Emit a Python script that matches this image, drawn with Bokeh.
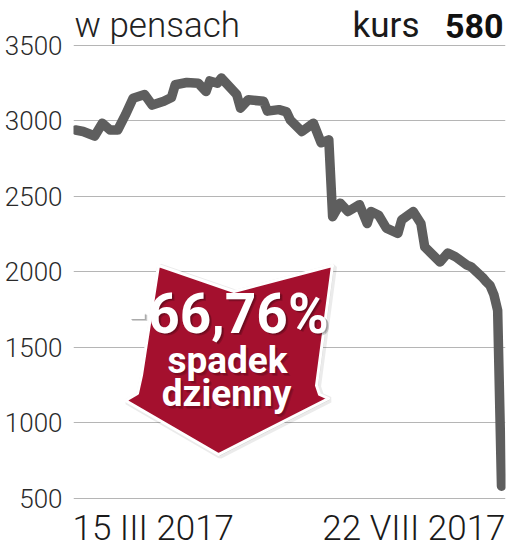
from bokeh.plotting import figure
from bokeh.models import FixedTicker, Label, Range1d
from bokeh.embed import file_html
from bokeh.resources import INLINE

# ---- data ----
session = [0, 2, 5, 7, 9, 11, 13, 15, 18, 20, 23, 25, 26, 29, 32, 34, 35, 37, 38, 40,
           42, 43, 45, 49, 50, 53, 55, 56, 59, 62, 64, 66, 67, 69, 71, 74, 76, 77, 79, 81,
           84, 85, 88, 90, 91, 95, 97, 99, 102, 103, 106, 107, 108, 109, 110, 111]
price = [2940, 2930, 2900, 2985, 2940, 2940, 3040, 3150, 3175, 3105, 3130, 3155, 3240, 3255,
         3250, 3195, 3265, 3250, 3285, 3230, 3175, 3085, 3140, 3130, 3065, 3075, 3060, 3005,
         2930, 2985, 2855, 2875, 2365, 2455, 2400, 2445, 2320, 2400, 2375, 2290, 2255, 2345,
         2400, 2320, 2165, 2065, 2125, 2100, 2045, 2035, 1965, 1935, 1910, 1850, 1745, 580]
y_ticks = [500, 1000, 1500, 2000, 2500, 3000, 3500]
date_labels = ["15 III 2017", "22 VIII 2017"]
unit_label = "w pensach"
kurs_label = "kurs"
kurs_value = "580"
change_label = "-66,76%"
change_text = ["spadek", "dzienny"]

# ---- layout ----
W, H = 510, 549
BL, BR = 73, 5
pxu = (501 - 75) / 111.0
X0 = -2 / pxu
X1 = X0 + (W - BL - BR) / pxu
pyu = (497.7 - 45) / 3000.0
Y1 = 3500 + 45 / pyu
Y0 = Y1 - H / pyu


def dx(px):
    return X0 + (px - BL) / pxu


def dy(py):
    return Y1 - py / pyu


LIGHT = "Roboto Light, Roboto"

p = figure(width=W, height=H, output_backend="svg", toolbar_location=None,
           x_axis_location=None, x_range=Range1d(X0, X1), y_range=Range1d(Y0, Y1),
           min_border_left=BL, min_border_top=0, min_border_bottom=0, min_border_right=BR)
p.outline_line_color = None
p.background_fill_color = "white"
p.border_fill_color = "white"
p.xgrid.visible = False
p.ygrid.grid_line_color = "#b5b5b5"
p.ygrid.grid_line_width = 1.2

ax = p.yaxis[0]
ax.ticker = FixedTicker(ticks=y_ticks)
ax.axis_line_color = None
ax.major_tick_line_color = None
ax.minor_tick_line_color = None
ax.major_tick_in = 0
ax.major_tick_out = 0
ax.major_label_standoff = 11
ax.major_label_text_font = LIGHT
ax.major_label_text_font_size = "26px"
ax.major_label_text_color = "#2a2a2a"

# price line
p.line(session, price, line_color="#5e5e5e", line_width=9.5,
       line_join="round", line_cap="round")

# arrow decoration
arrow_px = [(158, 265), (233.5, 291), (332, 265), (316, 385), (319, 394), (328, 398),
            (218, 454), (125, 400), (137, 393), (141, 375)]
ax_ = [dx(a) for a, b in arrow_px]
ay_ = [dy(b) for a, b in arrow_px]
p.patch([v + 0.4 for v in ax_], [v - 8 for v in ay_], fill_color="#000000", fill_alpha=0.12,
        line_color="#000000", line_alpha=0.08, line_width=6)
p.patch(ax_, ay_, fill_color="#a4102e", line_color="white", line_width=3, line_join="round")


def label(text, px, baseline_py, size, align, font, style="normal", color="#1a1a1a",
          alpha=1.0):
    # Label's alphabetic baseline sits ~0.34em lower than asked; compensate
    p.add_layout(Label(x=dx(px), y=dy(baseline_py - 0.34 * size), text=text,
                       text_align=align, text_baseline="alphabetic", text_font=font,
                       text_font_style=style, text_font_size=f"{size}px",
                       text_color=color, text_alpha=alpha))


# soft shadow behind the white arrow texts
for dd in (1.5, 2.5):
    label(change_label, 227 + dd, 332 + dd, 55, "center", "Roboto", "bold", "#000000", 0.18)
    label(change_text[0], 227 + dd, 373 + dd, 37, "center", "Roboto", "bold", "#000000", 0.12)
    label(change_text[1], 226 + dd, 406 + dd, 37, "center", "Roboto", "bold", "#000000", 0.12)
label(change_label, 227, 332, 55, "center", "Roboto", "bold", "white")
label(change_text[0], 227, 373, 37, "center", "Roboto", "bold", "white")
label(change_text[1], 226, 406, 37, "center", "Roboto", "bold", "white")

label(unit_label, 74, 37, 35, "left", LIGHT, color="#222222")
label(kurs_label, 419, 37, 35, "right", "Roboto")
label(kurs_value, 503, 37, 34, "right", "Roboto", "bold", "#111111")

label(date_labels[0], 72, 540, 35, "left", LIGHT)
label(date_labels[1], 505, 540, 35, "right", LIGHT)

open("out.html", "w").write(file_html(p, INLINE))
